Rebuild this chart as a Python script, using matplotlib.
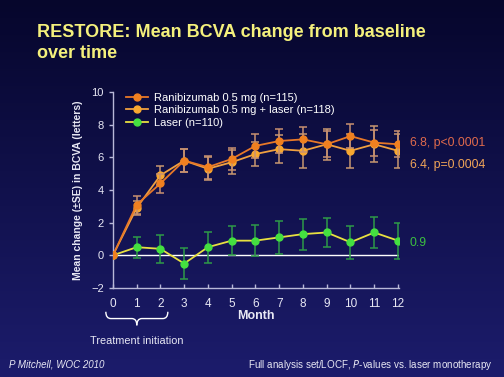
import numpy as np
import matplotlib
matplotlib.use("Agg")
import matplotlib.pyplot as plt
from matplotlib.lines import Line2D
from matplotlib.path import Path
from matplotlib.patches import PathPatch

plt.rcParams['font.family'] = ['Liberation Sans', 'DejaVu Sans']

months = list(range(13))
rani = [0, 3.1, 4.4, 5.8, 5.4, 5.9, 6.7, 7.0, 7.1, 6.8, 7.3, 6.9, 6.8]
rani_se = [0, 0.55, 0.6, 0.7, 0.7, 0.7, 0.75, 0.75, 0.75, 0.8, 0.75, 0.8, 0.8]
combo = [0, 2.9, 4.9, 5.8, 5.3, 5.7, 6.2, 6.5, 6.4, 6.8, 6.4, 6.8, 6.4]
combo_se = [0, 0.45, 0.6, 0.7, 0.7, 0.75, 0.75, 0.85, 1.05, 0.95, 1.05, 1.1, 1.05]
laser = [0, 0.5, 0.4, -0.5, 0.5, 0.9, 0.9, 1.1, 1.3, 1.4, 0.8, 1.4, 0.9]
laser_se = [0, 0.65, 0.85, 0.95, 0.95, 0.9, 0.95, 1.0, 0.95, 0.9, 1.0, 0.95, 1.1]
labels = ["Ranibizumab 0.5 mg (n=115)", "Ranibizumab 0.5 mg + laser (n=118)", "Laser (n=110)"]
end_labels = ["6.8, p<0.0001", "6.4, p=0.0004", "0.9"]

fig = plt.figure(figsize=(5.04, 3.77), dpi=100)
# background gradient
bg = fig.add_axes([0, 0, 1, 1])
grad = np.linspace(0, 1, 256).reshape(-1, 1)
top = np.array([0x06, 0x06, 0x2c]) / 255
bot = np.array([0x1c, 0x1c, 0x6c]) / 255
img = top + (bot - top) * grad[..., None]
bg.imshow(img, aspect='auto', extent=[0, 1, 0, 1], origin='upper')
bg.set_axis_off()

fig.text(0.073, 0.937, "RESTORE: Mean BCVA change from baseline\nover time",
         color='#f4f07c', fontsize=13, fontweight='bold', va='top', ha='left',
         linespacing=1.33)

ax = fig.add_axes([0.224, 0.236, 0.568, 0.52])
ax.set_facecolor('none')
ax.set_xlim(0, 12.05)
ax.set_ylim(-2, 10)
ax.axhline(0, color='white', lw=1, xmin=0, xmax=12/12.05, zorder=1)

styles = [
    dict(y=rani, se=rani_se, line='#e87828', mk='#f08020', ec='#c89070', z=5),
    dict(y=combo, se=combo_se, line='#f0a040', mk='#f8a830', ec='#c89870', z=4),
    dict(y=laser, se=laser_se, line='#e8e040', mk='#44e040', ec='#2e9a48', z=3),
]
handles = []
for st, lab in zip(styles, labels):
    ax.errorbar(months, st['y'], yerr=st['se'], color=st['line'], lw=1.3,
                ecolor=st['ec'], elinewidth=1.1, capsize=3, capthick=1.1,
                marker='o', ms=5, mfc=st['mk'], mec=st['mk'], zorder=st['z'])
    handles.append(Line2D([], [], color=st['line'], lw=1.3, marker='o', ms=5,
                          mfc=st['mk'], mec=st['mk']))

ax.legend(handles, labels, loc='upper left', bbox_to_anchor=(0.02, 1.035),
          frameon=False, fontsize=8, labelcolor='white', handlelength=1.9,
          handletextpad=0.55, labelspacing=0.22, borderpad=0.2)

ax.text(12.5, 6.9, end_labels[0], color='#e06a4c', fontsize=8.8, va='center')
ax.text(12.5, 5.55, end_labels[1], color='#f0a458', fontsize=8.8, va='center')
ax.text(12.5, 0.75, end_labels[2], color='#3cc040', fontsize=8.8, va='center')

for s in ['top', 'right']:
    ax.spines[s].set_visible(False)
for s in ['left', 'bottom']:
    ax.spines[s].set_color('#b8b8d8')
    ax.spines[s].set_linewidth(1)
ax.set_xticks(months)
ax.set_yticks([-2, 0, 2, 4, 6, 8, 10])
ax.set_yticklabels(['\u22122', '0', '2', '4', '6', '8', '10'])
ax.tick_params(colors='#b8b8d8', labelcolor='#e8e8f4', labelsize=8.5, length=3, width=1)
ax.tick_params(axis='x', direction='in', pad=7)
ax.tick_params(axis='y', labelsize=8)
ax.set_xlabel("Month", color='#e8e8f4', fontsize=9, fontweight='bold', labelpad=0)
ax.set_ylabel("Mean change (\u00b1SE) in BCVA (letters)", color='#e8e8f4',
              fontsize=7.5, fontweight='bold', labelpad=6)

# brace under months 0-2
x0, x1 = 0.21, 0.333
yb = 0.155
d = 0.018
mid = (x0 + x1) / 2
codes = [Path.MOVETO, Path.CURVE3, Path.CURVE3, Path.LINETO, Path.CURVE3, Path.CURVE3]
verts = [(x0, yb + d), (x0, yb), (x0 + 0.01, yb), (mid - 0.01, yb),
         (mid, yb), (mid, yb - d)]
verts2 = [(x1, yb + d), (x1, yb), (x1 - 0.01, yb), (mid + 0.01, yb),
          (mid, yb), (mid, yb - d)]
for v in (verts, verts2):
    fig.add_artist(PathPatch(Path(v, codes), transform=fig.transFigure,
                             fc='none', ec='white', lw=1))
fig.text(mid, 0.095, "Treatment initiation", color='#e8e8f4', fontsize=7.8,
         ha='center', va='center')

fig.text(0.018, 0.032, "P Mitchell, WOC 2010", color='#e8e8f4', fontsize=7,
         style='italic', ha='left', va='center')
fig.text(0.977, 0.032, "Full analysis set/LOCF, $\\mathit{P}$-values vs. laser monotherapy",
         color='#e8e8f4', fontsize=7.1, ha='right', va='center')

fig.savefig("out.png", dpi=100)
